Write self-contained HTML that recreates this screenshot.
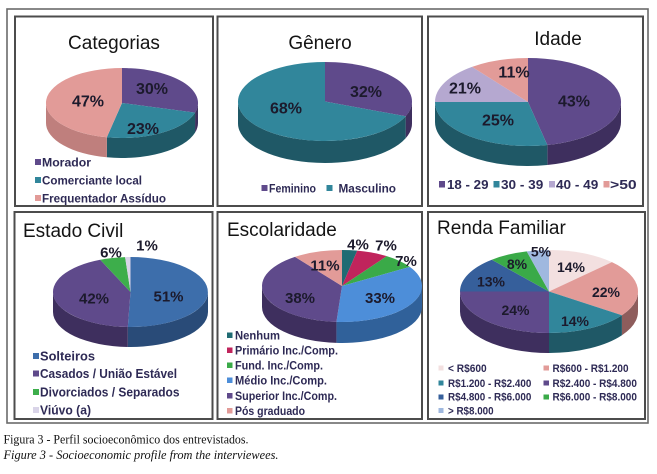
<!DOCTYPE html>
<html>
<head>
<meta charset="utf-8">
<style>
html,body{margin:0;padding:0;background:#fff;}
svg{display:block;}
.t{font-family:"Liberation Sans",Arial,sans-serif;font-size:19px;fill:#141414;}
.l{font-family:"Liberation Sans",Arial,sans-serif;font-weight:bold;fill:#1c1a2c;text-anchor:middle;}
.g{font-family:"Liberation Sans",Arial,sans-serif;font-weight:bold;fill:#2e2a55;}
.c{font-family:"Liberation Serif","Times New Roman",serif;font-size:13px;fill:#111;}
</style>
</head>
<body>
<svg width="657" height="474" viewBox="0 0 657 474" xmlns="http://www.w3.org/2000/svg">
<rect x="0" y="0" width="657" height="474" fill="#fff"/>
<!-- outer frame -->
<rect x="7" y="9" width="641" height="414" fill="none" stroke="#6a6a6a" stroke-width="1.6"/>
<!-- panels -->
<g fill="#fff" stroke="#4c4c4c" stroke-width="2">
<rect x="15" y="16.5" width="198" height="189.5"/>
<rect x="217.5" y="16.5" width="204.5" height="189.5"/>
<rect x="428" y="16.5" width="215" height="189.5"/>
<rect x="14.5" y="212" width="198" height="207"/>
<rect x="217.5" y="212" width="204.5" height="207"/>
<rect x="428" y="212" width="217" height="207"/>
</g>

<!-- ===== Categorias ===== -->
<text class="t" x="114" y="49" text-anchor="middle">Categorias</text>
<path d="M198,103 A76,35 0 0 1 195.06,112.65 L195.06,132.65 A76,35 0 0 0 198,123 Z" fill="#3e2f5e"/>
<path d="M195.06,112.65 A76,35 0 0 1 106.85,137.3 L106.85,157.3 A76,35 0 0 0 195.06,132.65 Z" fill="#1f5866"/>
<path d="M106.85,137.3 A76,35 0 0 1 46,103 L46,123 A76,35 0 0 0 106.85,157.3 Z" fill="#bf7f7d"/>
<path d="M122,103 L122,68 A76,35 0 0 1 195.06,112.65 Z" fill="#5f4a8b"/>
<path d="M122,103 L195.06,112.65 A76,35 0 0 1 106.85,137.3 Z" fill="#31869b"/>
<path d="M122,103 L106.85,137.3 A76,35 0 0 1 122,68 Z" fill="#e29b98"/>
<text class="l" font-size="16" x="152" y="94">30%</text>
<text class="l" font-size="16" x="88" y="106.5">47%</text>
<text class="l" font-size="16" x="143" y="134">23%</text>
<rect x="35" y="159" width="6" height="6" fill="#5f4a8b"/>
<rect x="35" y="177" width="6" height="6" fill="#31869b"/>
<rect x="35" y="195" width="6" height="6" fill="#e29b98"/>
<text class="g" font-size="12" x="42" y="166.5" textLength="49" lengthAdjust="spacingAndGlyphs">Morador</text>
<text class="g" font-size="12" x="42" y="184.5" textLength="100" lengthAdjust="spacingAndGlyphs">Comerciante local</text>
<text class="g" font-size="12" x="42" y="202.5" textLength="124" lengthAdjust="spacingAndGlyphs">Frequentador Assíduo</text>

<!-- ===== Gênero ===== -->
<text class="t" x="320" y="49" text-anchor="middle">Gênero</text>
<path d="M412,101.5 A87,39.5 0 0 1 405.66,116.3 L405.66,138.3 A87,39.5 0 0 0 412,123.5 Z" fill="#3e2f5e"/>
<path d="M405.66,116.3 A87,39.5 0 0 1 238,101.5 L238,123.5 A87,39.5 0 0 0 405.66,138.3 Z" fill="#1f5866"/>
<path d="M325,101.5 L325,62 A87,39.5 0 0 1 405.66,116.3 Z" fill="#5f4a8b"/>
<path d="M325,101.5 L405.66,116.3 A87,39.5 0 1 1 325,62 Z" fill="#31869b"/>
<text class="l" font-size="16" x="366" y="97">32%</text>
<text class="l" font-size="16" x="286" y="113.5">68%</text>
<rect x="261.5" y="185" width="6" height="6" fill="#5f4a8b"/>
<rect x="326.5" y="185" width="6" height="6" fill="#31869b"/>
<text class="g" font-size="12" x="269" y="192.5" textLength="47" lengthAdjust="spacingAndGlyphs">Feminino</text>
<text class="g" font-size="12" x="338.5" y="192.5" textLength="57.5" lengthAdjust="spacingAndGlyphs">Masculino</text>

<!-- ===== Idade ===== -->
<text class="t" x="558" y="45" text-anchor="middle">Idade</text>
<path d="M621,102 A93,44 0 0 1 547.34,145.04 L547.34,165.04 A93,44 0 0 0 621,122 Z" fill="#3e2f5e"/>
<path d="M547.34,145.04 A93,44 0 0 1 435,102 L435,122 A93,44 0 0 0 547.34,165.04 Z" fill="#1f5866"/>
<path d="M528,102 L528,58 A93,44 0 0 1 547.34,145.04 Z" fill="#5f4a8b"/>
<path d="M528,102 L547.34,145.04 A93,44 0 0 1 435,102 Z" fill="#31869b"/>
<path d="M528,102 L435,102 A93,44 0 0 1 472.03,66.86 Z" fill="#b5a8d0"/>
<path d="M528,102 L472.03,66.86 A93,44 0 0 1 528,58 Z" fill="#e29b98"/>
<text class="l" font-size="16" x="514" y="77.5">11%</text>
<text class="l" font-size="16" x="465" y="93.5">21%</text>
<text class="l" font-size="16" x="574" y="106.5">43%</text>
<text class="l" font-size="16" x="498" y="125.5">25%</text>
<rect x="439" y="181" width="6" height="6.5" fill="#5f4a8b"/>
<rect x="493.5" y="181" width="6" height="6.5" fill="#31869b"/>
<rect x="549" y="181" width="6" height="6.5" fill="#b5a8d0"/>
<rect x="603.5" y="181" width="6" height="6.5" fill="#e29b98"/>
<text class="g" font-size="13" x="447" y="189" textLength="41.5" lengthAdjust="spacingAndGlyphs">18 - 29</text>
<text class="g" font-size="13" x="501" y="189" textLength="42.3" lengthAdjust="spacingAndGlyphs">30 - 39</text>
<text class="g" font-size="13" x="556" y="189" textLength="42.3" lengthAdjust="spacingAndGlyphs">40 - 49</text>
<text class="g" font-size="13" x="610" y="189" textLength="26.7" lengthAdjust="spacingAndGlyphs">&gt;50</text>

<!-- ===== Estado Civil ===== -->
<text class="t" x="23" y="237">Estado Civil</text>
<path d="M208,292 A77.5,35 0 0 1 127.8,326.98 L127.8,346.98 A77.5,35 0 0 0 208,312 Z" fill="#294b78"/>
<path d="M127.8,326.98 A77.5,35 0 0 1 53,292 L53,312 A77.5,35 0 0 0 127.8,346.98 Z" fill="#3e2f5e"/>
<path d="M130.5,292 L130.5,257 A77.5,35 0 1 1 127.8,326.98 Z" fill="#3d6eab"/>
<path d="M130.5,292 L127.8,326.98 A77.5,35 0 0 1 100.22,259.78 Z" fill="#5f4a8b"/>
<path d="M130.5,292 L100.22,259.78 A77.5,35 0 0 1 125.09,257.08 Z" fill="#3dae4b"/>
<path d="M130.5,292 L125.09,257.08 A77.5,35 0 0 1 130.5,257 Z" fill="#d9d4e8"/>
<text class="l" font-size="15" x="111" y="257.5">6%</text>
<text class="l" font-size="15" x="147" y="250.5">1%</text>
<text class="l" font-size="15" x="94" y="303.5">42%</text>
<text class="l" font-size="15" x="168.5" y="301.5">51%</text>
<rect x="33" y="353" width="6" height="6" fill="#3d6eab"/>
<rect x="33" y="370.5" width="6" height="6" fill="#5f4a8b"/>
<rect x="33" y="389" width="6" height="6" fill="#3dae4b"/>
<rect x="33" y="407" width="6" height="6" fill="#d9d4e8"/>
<text class="g" font-size="13" x="40" y="360.5" textLength="55" lengthAdjust="spacingAndGlyphs">Solteiros</text>
<text class="g" font-size="13" x="40" y="378" textLength="137" lengthAdjust="spacingAndGlyphs">Casados / União Estável</text>
<text class="g" font-size="13" x="40" y="396.5" textLength="139.5" lengthAdjust="spacingAndGlyphs">Divorciados / Separados</text>
<text class="g" font-size="13" x="40" y="414.5" textLength="51" lengthAdjust="spacingAndGlyphs">Viúvo (a)</text>

<!-- ===== Escolaridade ===== -->
<text class="t" x="227" y="236">Escolaridade</text>
<path d="M422,286 A80,36 0 0 1 336.42,321.91 L336.42,342.91 A80,36 0 0 0 422,307 Z" fill="#30619a"/>
<path d="M336.42,321.91 A80,36 0 0 1 262,286 L262,307 A80,36 0 0 0 336.42,342.91 Z" fill="#3e2f5e"/>
<path d="M342,286 L342,250 A80,36 0 0 1 357.26,250.66 Z" fill="#1f6b73"/>
<path d="M342,286 L357.26,250.66 A80,36 0 0 1 386.74,256.16 Z" fill="#c0245c"/>
<path d="M342,286 L386.74,256.16 A80,36 0 0 1 409.84,266.92 Z" fill="#3aaa48"/>
<path d="M342,286 L409.84,266.92 A80,36 0 0 1 336.42,321.91 Z" fill="#4d8ed9"/>
<path d="M342,286 L336.42,321.91 A80,36 0 0 1 294.98,256.88 Z" fill="#5f4a8b"/>
<path d="M342,286 L294.98,256.88 A80,36 0 0 1 342,250 Z" fill="#e29b98"/>
<text class="l" font-size="15" x="358" y="249.5">4%</text>
<text class="l" font-size="15" x="386" y="250.5">7%</text>
<text class="l" font-size="15" x="406" y="266">7%</text>
<text class="l" font-size="15" x="325" y="270.5">11%</text>
<text class="l" font-size="15" x="300" y="303">38%</text>
<text class="l" font-size="15" x="380" y="303">33%</text>
<rect x="227" y="332.5" width="5.5" height="5.5" fill="#1f6b73"/>
<rect x="227" y="347.5" width="5.5" height="5.5" fill="#c0245c"/>
<rect x="227" y="362.5" width="5.5" height="5.5" fill="#3aaa48"/>
<rect x="227" y="377.5" width="5.5" height="5.5" fill="#4d8ed9"/>
<rect x="227" y="393" width="5.5" height="5.5" fill="#5f4a8b"/>
<rect x="227" y="408" width="5.5" height="5.5" fill="#e29b98"/>
<text class="g" font-size="12" x="235" y="339.5" textLength="45" lengthAdjust="spacingAndGlyphs">Nenhum</text>
<text class="g" font-size="12" x="235" y="354.5" textLength="103" lengthAdjust="spacingAndGlyphs">Primário Inc./Comp.</text>
<text class="g" font-size="12" x="235" y="369.5" textLength="88" lengthAdjust="spacingAndGlyphs">Fund. Inc./Comp.</text>
<text class="g" font-size="12" x="235" y="384.5" textLength="92" lengthAdjust="spacingAndGlyphs">Médio Inc./Comp.</text>
<text class="g" font-size="12" x="235" y="400" textLength="102" lengthAdjust="spacingAndGlyphs">Superior Inc./Comp.</text>
<text class="g" font-size="12" x="235" y="415" textLength="70" lengthAdjust="spacingAndGlyphs">Pós graduado</text>

<!-- ===== Renda Familiar ===== -->
<text class="t" x="437" y="234">Renda Familiar</text>
<path d="M638,291.5 A89,41.5 0 0 1 621.91,315.3 L621.91,335.3 A89,41.5 0 0 0 638,311.5 Z" fill="#8e5d5c"/>
<path d="M621.91,315.3 A89,41.5 0 0 1 549,333 L549,353 A89,41.5 0 0 0 621.91,335.3 Z" fill="#1f5866"/>
<path d="M549,333 A89,41.5 0 0 1 460,291.5 L460,311.5 A89,41.5 0 0 0 549,353 Z" fill="#3e2f5e"/>
<path d="M549,291.5 L549,250 A89,41.5 0 0 1 611.93,262.16 Z" fill="#f3e0e0"/>
<path d="M549,291.5 L611.93,262.16 A89,41.5 0 0 1 621.91,315.3 Z" fill="#e29b98"/>
<path d="M549,291.5 L621.91,315.3 A89,41.5 0 0 1 549,333 Z" fill="#31869b"/>
<path d="M549,291.5 L549,333 A89,41.5 0 0 1 460,291.5 Z" fill="#5f4a8b"/>
<path d="M549,291.5 L460,291.5 A89,41.5 0 0 1 491.79,259.71 Z" fill="#365f9b"/>
<path d="M549,291.5 L491.79,259.71 A89,41.5 0 0 1 526.71,251.32 Z" fill="#3aaa48"/>
<path d="M549,291.5 L526.71,251.32 A89,41.5 0 0 1 549,250 Z" fill="#9fb8df"/>
<text class="l" font-size="14" x="541" y="256.5">5%</text>
<text class="l" font-size="14" x="571" y="272">14%</text>
<text class="l" font-size="14" x="517" y="269">8%</text>
<text class="l" font-size="14" x="491" y="286.5">13%</text>
<text class="l" font-size="14" x="606" y="297">22%</text>
<text class="l" font-size="14" x="515.5" y="315">24%</text>
<text class="l" font-size="14" x="575" y="326">14%</text>
<rect x="438.5" y="365.5" width="5" height="5" fill="#f3e0e0"/>
<rect x="543.5" y="365.5" width="5.5" height="5" fill="#e29b98"/>
<rect x="438.5" y="380.5" width="5" height="5" fill="#31869b"/>
<rect x="543.5" y="380.5" width="5.5" height="5" fill="#5f4a8b"/>
<rect x="438.5" y="394.5" width="5" height="5" fill="#365f9b"/>
<rect x="543.5" y="394.5" width="5.5" height="5" fill="#3aaa48"/>
<rect x="438.5" y="408" width="5" height="5" fill="#9fb8df"/>
<text class="g" font-size="11" x="448" y="372" textLength="38.7" lengthAdjust="spacingAndGlyphs">&lt;  R$600</text>
<text class="g" font-size="11" x="552.5" y="372" textLength="76" lengthAdjust="spacingAndGlyphs">R$600 - R$1.200</text>
<text class="g" font-size="11" x="448" y="386.8" textLength="83.3" lengthAdjust="spacingAndGlyphs">R$1.200 - R$2.400</text>
<text class="g" font-size="11" x="552.5" y="386.8" textLength="84.4" lengthAdjust="spacingAndGlyphs">R$2.400 - R$4.800</text>
<text class="g" font-size="11" x="448" y="400.7" textLength="83.3" lengthAdjust="spacingAndGlyphs">R$4.800 - R$6.000</text>
<text class="g" font-size="11" x="552.5" y="400.7" textLength="84.4" lengthAdjust="spacingAndGlyphs">R$6.000 - R$8.000</text>
<text class="g" font-size="11" x="448" y="414.3" textLength="45.6" lengthAdjust="spacingAndGlyphs">&gt; R$8.000</text>

<!-- ===== Caption ===== -->
<text class="c" x="3.5" y="443.5" textLength="245" lengthAdjust="spacingAndGlyphs">Figura 3 - Perfil socioeconômico dos entrevistados.</text>
<text class="c" x="3.5" y="459" font-style="italic" textLength="275" lengthAdjust="spacingAndGlyphs">Figure 3 - Socioeconomic profile from the interviewees.</text>
</svg>
</body>
</html>
